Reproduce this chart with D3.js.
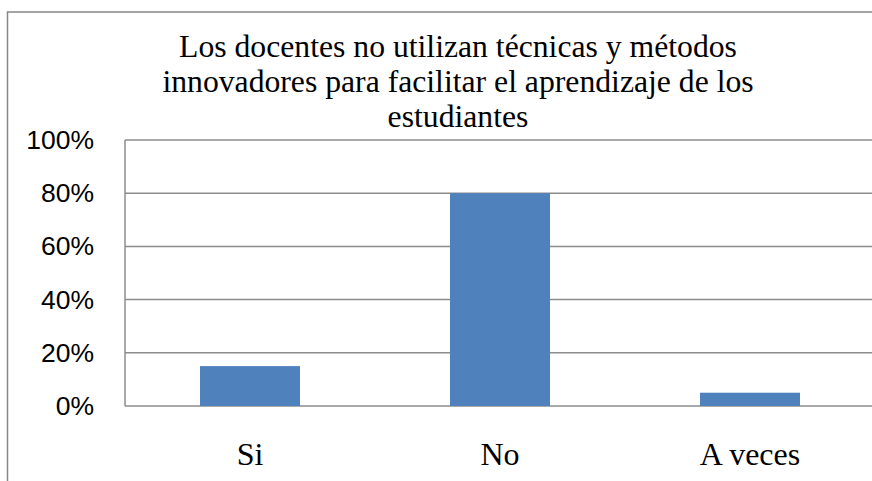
<!DOCTYPE html>
<html><head><meta charset="utf-8">
<script src="https://cdn.jsdelivr.net/npm/d3@7"></script>
<style>html,body{margin:0;padding:0;background:#fff;overflow:hidden}svg{display:block}</style>
</head><body>
<svg id="chart" width="872" height="481"></svg>
<script>
const categories = ["Si", "No", "A veces"];
const values = [0.15, 0.80, 0.05];
const yTicks = [0, 0.2, 0.4, 0.6, 0.8, 1.0];
const titleLines = ["Los docentes no utilizan técnicas y métodos",
  "innovadores para facilitar el aprendizaje de los", "estudiantes"];

const svg = d3.select("#chart");
const plot = {left: 125, right: 875, top: 140, bottom: 406};

// outer border (only left and top edges are visible in the frame)
svg.append("path").attr("d", "M7.5,481 L7.5,12 L872,12")
  .attr("fill", "none").attr("stroke", "#878787").attr("stroke-width", 1.5);

const x = d3.scaleBand().domain(categories).range([plot.left, plot.right])
  .paddingInner(0.6).paddingOuter(0.3);
const y = d3.scaleLinear().domain([0, 1]).range([plot.bottom, plot.top]);

// gridlines
svg.append("g").selectAll("line").data(yTicks).join("line")
  .attr("x1", plot.left).attr("x2", plot.right)
  .attr("y1", d => y(d)).attr("y2", d => y(d))
  .attr("stroke", "#8c8c8c").attr("stroke-width", 1.5);

// left axis line
svg.append("line").attr("x1", plot.left).attr("x2", plot.left)
  .attr("y1", plot.top).attr("y2", plot.bottom)
  .attr("stroke", "#8c8c8c").attr("stroke-width", 1.5);

// bars
svg.append("g").selectAll("rect").data(categories).join("rect")
  .attr("x", d => x(d)).attr("width", x.bandwidth())
  .attr("y", (d, i) => y(values[i])).attr("height", (d, i) => y(0) - y(values[i]))
  .attr("fill", "#4f81bd");

// y tick labels
const yAxis = d3.axisLeft(y).tickValues(yTicks).tickFormat(d3.format(".0%")).tickSize(0).tickPadding(31);
const gy = svg.append("g").attr("transform", `translate(${plot.left},0)`).call(yAxis);
gy.select(".domain").remove();
gy.selectAll("text").attr("font-family", "Liberation Sans, Arial, sans-serif")
  .attr("font-size", 26.5).attr("fill", "#000");

// x labels
const xAxis = d3.axisBottom(x).tickSize(0).tickPadding(36);
const gx = svg.append("g").attr("transform", `translate(0,${plot.bottom})`).call(xAxis);
gx.select(".domain").remove();
gx.selectAll("text").attr("font-family", "Liberation Serif, 'Times New Roman', serif")
  .attr("font-size", 32).attr("fill", "#000");

// title
const t = svg.append("text").attr("text-anchor", "middle")
  .attr("font-family", "Liberation Serif, 'Times New Roman', serif")
  .attr("font-size", 31.7).attr("fill", "#000");
titleLines.forEach((l, i) => {
  t.append("tspan").attr("x", 458).attr("y", 57 + i * 35).text(l);
});
</script>
</body></html>
